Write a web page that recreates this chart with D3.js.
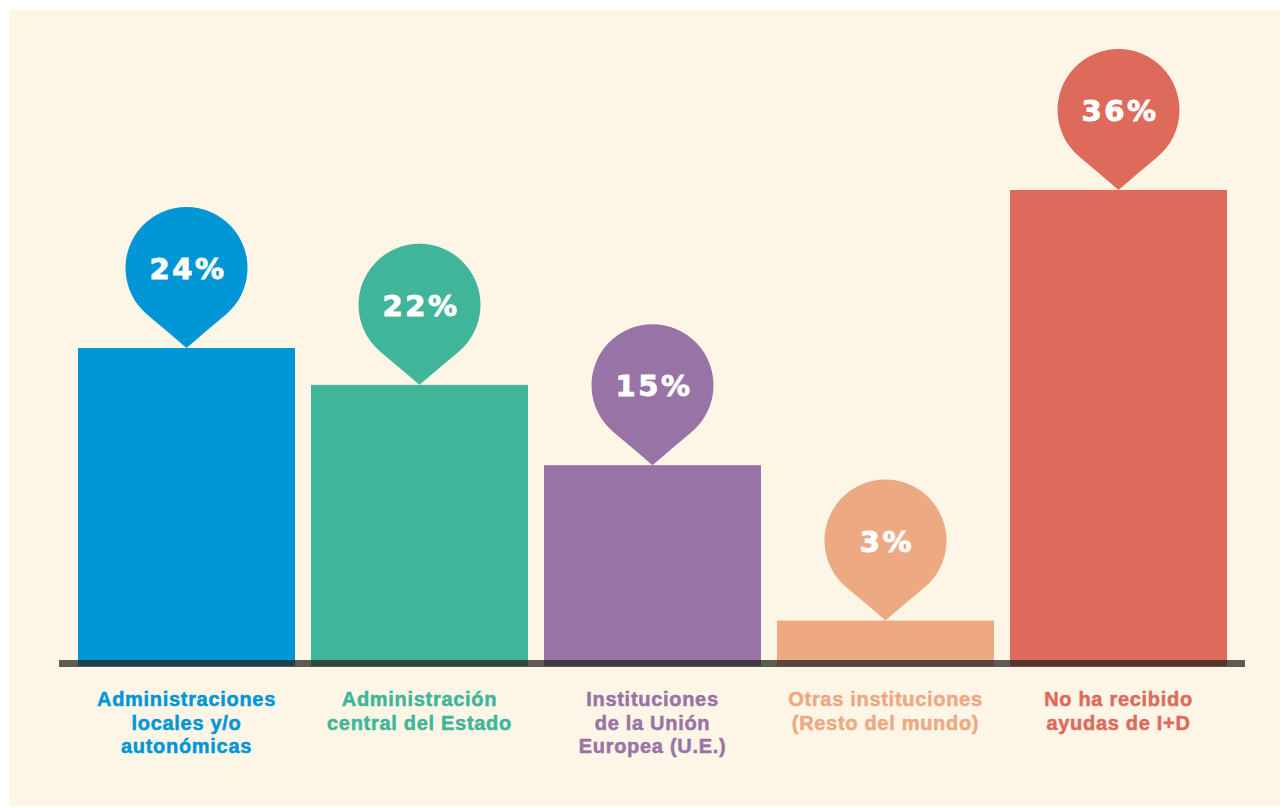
<!DOCTYPE html>
<html>
<head>
<meta charset="utf-8">
<script src="https://cdn.jsdelivr.net/npm/d3@7"></script>
<style>
  html, body { margin: 0; padding: 0; background: #ffffff; }
  svg { display: block; }
</style>
</head>
<body>
<div id="chart"></div>
<script>
// Data
const categories = [
    ["Administraciones", "locales y/o", "autonómicas"],
    ["Administración", "central del Estado"],
    ["Instituciones", "de la Unión", "Europea (U.E.)"],
    ["Otras instituciones", "(Resto del mundo)"],
    ["No ha recibido", "ayudas de I+D"]
];
const values = [24, 21.2, 15.1, 3.3, 36];
const valueLabels = ["24%", "22%", "15%", "3%", "36%"];
const colors = ["#0096d6", "#40b59a", "#9874a6", "#eda982", "#de6a5c"];

const fullWidth = 1282, fullHeight = 808;

const svg = d3.select("#chart")
    .append("svg")
    .attr("width", fullWidth)
    .attr("height", fullHeight);

// Cream background panel
svg.append("rect")
    .attr("x", 9)
    .attr("y", 10)
    .attr("width", fullWidth - 11)
    .attr("height", fullHeight - 12)
    .attr("fill", "#fdf6e7");

const idx = d3.range(values.length);

// Scales
const x = d3.scaleBand()
    .domain(idx)
    .range([78, 1227])
    .paddingInner(16 / 233)
    .paddingOuter(0);

const y = d3.scaleLinear()
    .domain([0, 36])
    .range([664, 190]);

// Bars
svg.selectAll(".bar")
    .data(idx)
    .join("rect")
    .attr("class", "bar")
    .attr("x", i => x(i))
    .attr("y", i => y(values[i]))
    .attr("width", x.bandwidth())
    .attr("height", i => y(0) - y(values[i]) + 2)
    .attr("fill", i => colors[i]);

// Baseline
svg.append("rect")
    .attr("x", 59)
    .attr("y", 660)
    .attr("width", 1186)
    .attr("height", 7)
    .attr("fill", "rgb(36,35,30)")
    .attr("fill-opacity", 0.74);

// Pins: circle + tip pointing at the bar top
const r = 61, tipDist = 80;
function pinPath(cx, tipY) {
    const cy = tipY - tipDist;
    const theta = Math.acos(r / tipDist);
    const tx = r * Math.sin(theta), ty = r * Math.cos(theta);
    const my = cy + ty + (tipY - cy - ty) * 0.49;
    const p = d3.path();
    p.moveTo(cx, tipY);
    p.quadraticCurveTo(cx - tx * 0.5, my, cx - tx, cy + ty);
    p.arc(cx, cy, r, Math.PI / 2 + theta, Math.PI / 2 - theta + 2 * Math.PI, false);
    p.quadraticCurveTo(cx + tx * 0.5, my, cx, tipY);
    p.closePath();
    return p.toString();
}

svg.selectAll(".pin")
    .data(idx)
    .join("path")
    .attr("class", "pin")
    .attr("d", i => pinPath(x(i) + x.bandwidth() / 2, y(values[i])))
    .attr("fill", i => colors[i]);

svg.selectAll(".pct")
    .data(idx)
    .join("text")
    .attr("class", "pct")
    .attr("x", i => x(i) + x.bandwidth() / 2 + 1.5)
    .attr("y", i => y(values[i]) - tipDist + 11)
    .attr("text-anchor", "middle")
    .style("font-family", "'DejaVu Sans', sans-serif")
    .style("font-weight", "bold")
    .style("font-size", "29px")
    .style("letter-spacing", "2.6px")
    .attr("fill", "#ffffff")
    .attr("stroke", "#ffffff")
    .attr("stroke-width", 0.9)
    .text(i => valueLabels[i]);

// Category labels
const labels = svg.selectAll(".cat")
    .data(idx)
    .join("text")
    .attr("class", "cat")
    .attr("text-anchor", "middle")
    .style("font-family", "'Liberation Sans', Arial, sans-serif")
    .style("font-weight", "bold")
    .style("font-size", "20px")
    .style("letter-spacing", "0.7px")
    .attr("fill", i => colors[i])
    .attr("stroke", i => colors[i])
    .attr("stroke-width", 0.5);

labels.selectAll("tspan")
    .data(i => categories[i].map(line => ({ i, line })))
    .join("tspan")
    .attr("x", d => x(d.i) + x.bandwidth() / 2)
    .attr("y", (d, j) => 706 + j * 23.5)
    .text(d => d.line);
</script>
</body>
</html>
